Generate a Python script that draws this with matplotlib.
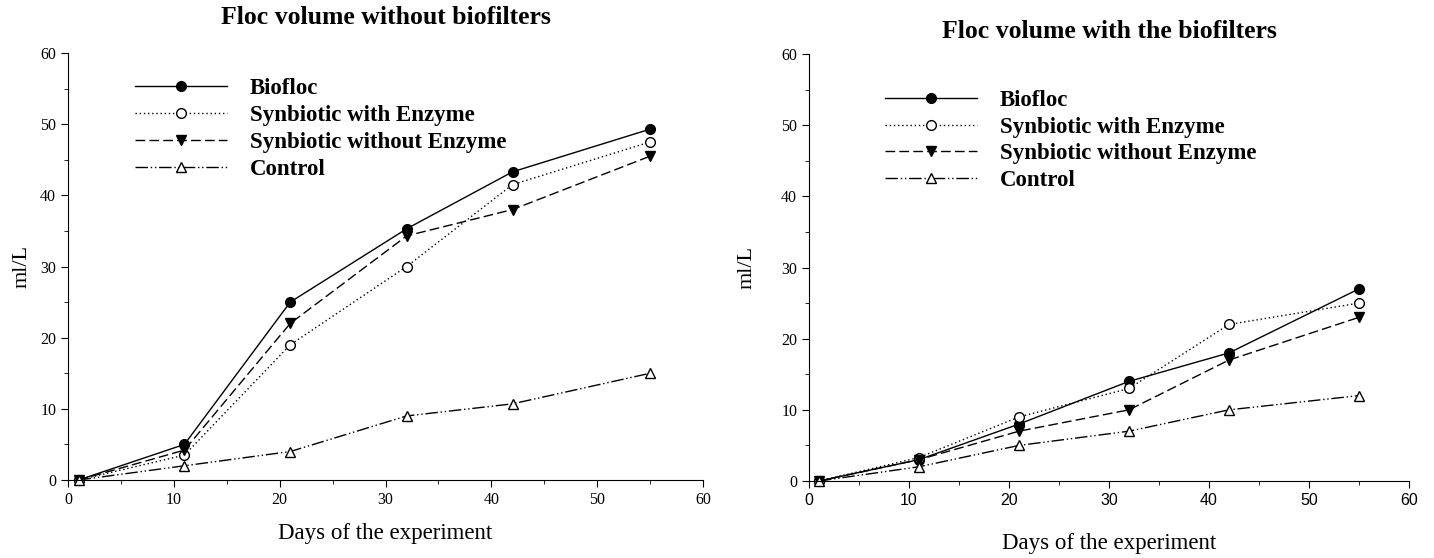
import matplotlib
matplotlib.use('Agg')
import matplotlib.pyplot as plt
from matplotlib.ticker import MultipleLocator

plt.rcParams['font.family'] = ['Liberation Serif', 'DejaVu Serif']

days = [1, 11, 21, 32, 42, 55]
series_names = ['Biofloc', 'Synbiotic with Enzyme', 'Synbiotic without Enzyme', 'Control']

# floc volume (ml/L) without biofilters
no_filter_biofloc = [0, 5, 25, 35.3, 43.3, 49.3]
no_filter_syn_enz = [0, 3.5, 19, 30, 41.5, 47.5]
no_filter_syn_noenz = [0, 4.2, 22, 34.3, 38, 45.5]
no_filter_control = [0, 2, 4, 9, 10.7, 15]

# floc volume (ml/L) with the biofilters
filter_biofloc = [0, 3, 8, 14, 18, 27]
filter_syn_enz = [0, 3.3, 9, 13, 22, 25]
filter_syn_noenz = [0, 3, 7, 10, 17, 23]
filter_control = [0, 2, 5, 7, 10, 12]

styles = [
    dict(linestyle='-', marker='o', mfc='black'),
    dict(linestyle=(0, (1, 2)), marker='o', mfc='white'),
    dict(linestyle=(0, (7, 3)), marker='v', mfc='black'),
    dict(linestyle=(0, (9, 2, 1, 2, 1, 2)), marker='^', mfc='white'),
]

fig = plt.figure(figsize=(14.34, 5.58), dpi=100)
W, H = 1434, 558
ax1 = fig.add_axes([68 / W, 1 - 480 / H, (703 - 68) / W, (480 - 53) / H])
ax2 = fig.add_axes([809 / W, 1 - 481 / H, (1409 - 809) / W, (481 - 54) / H])


def draw(ax, data, title, title_y, legend_pos, ylabel_x, xlabel_y, xtick_font):
    for vals, name, st in zip(data, series_names, styles):
        ax.plot(days, vals, color='black', lw=1.0, linestyle=st['linestyle'],
                marker=st['marker'], mfc=st['mfc'], mec='black', ms=7,
                mew=1.0, label=name, clip_on=False)
    ax.set_xlim(0, 60)
    ax.set_ylim(0, 60)
    ax.xaxis.set_major_locator(MultipleLocator(10))
    ax.xaxis.set_minor_locator(MultipleLocator(5))
    ax.yaxis.set_major_locator(MultipleLocator(10))
    ax.yaxis.set_minor_locator(MultipleLocator(5))
    ax.spines['top'].set_visible(False)
    ax.spines['right'].set_visible(False)
    ax.tick_params(which='major', direction='out', length=5, labelsize=11.5)
    ax.tick_params(which='minor', direction='out', length=3)
    for lab in ax.get_xticklabels():
        lab.set_family(xtick_font)
    ax.set_xlabel('Days of the experiment', fontsize=16.5, va='center')
    ax.xaxis.set_label_coords(0.5, xlabel_y)
    ax.set_ylabel('ml/L', fontsize=16, va='center')
    ax.yaxis.set_label_coords(ylabel_x, 0.5)
    bb = ax.get_position()
    fig.text((bb.x0 + bb.x1) / 2, title_y, title, fontsize=18.5,
             fontweight='bold', ha='center', va='center')
    ax.legend(loc='upper left', bbox_to_anchor=legend_pos, frameon=False,
              borderaxespad=0, borderpad=0,
              handlelength=4.0, handletextpad=1.0, labelspacing=0.25,
              prop={'weight': 'bold', 'size': 16.5})


draw(ax1, [no_filter_biofloc, no_filter_syn_enz, no_filter_syn_noenz, no_filter_control],
     'Floc volume without biofilters', 1 - 18 / H, (0.1055, 0.941),
     (22 - 68) / 635, -(534 - 480) / 427, ['Liberation Serif', 'DejaVu Serif'])
draw(ax2, [filter_biofloc, filter_syn_enz, filter_syn_noenz, filter_control],
     'Floc volume with the biofilters', 1 - 31 / H, (0.127, 0.916),
     (747 - 809) / 600, -(543 - 481) / 427,
     ['Liberation Sans Narrow', 'Liberation Sans', 'DejaVu Sans'])

fig.savefig('out.png', dpi=100)
